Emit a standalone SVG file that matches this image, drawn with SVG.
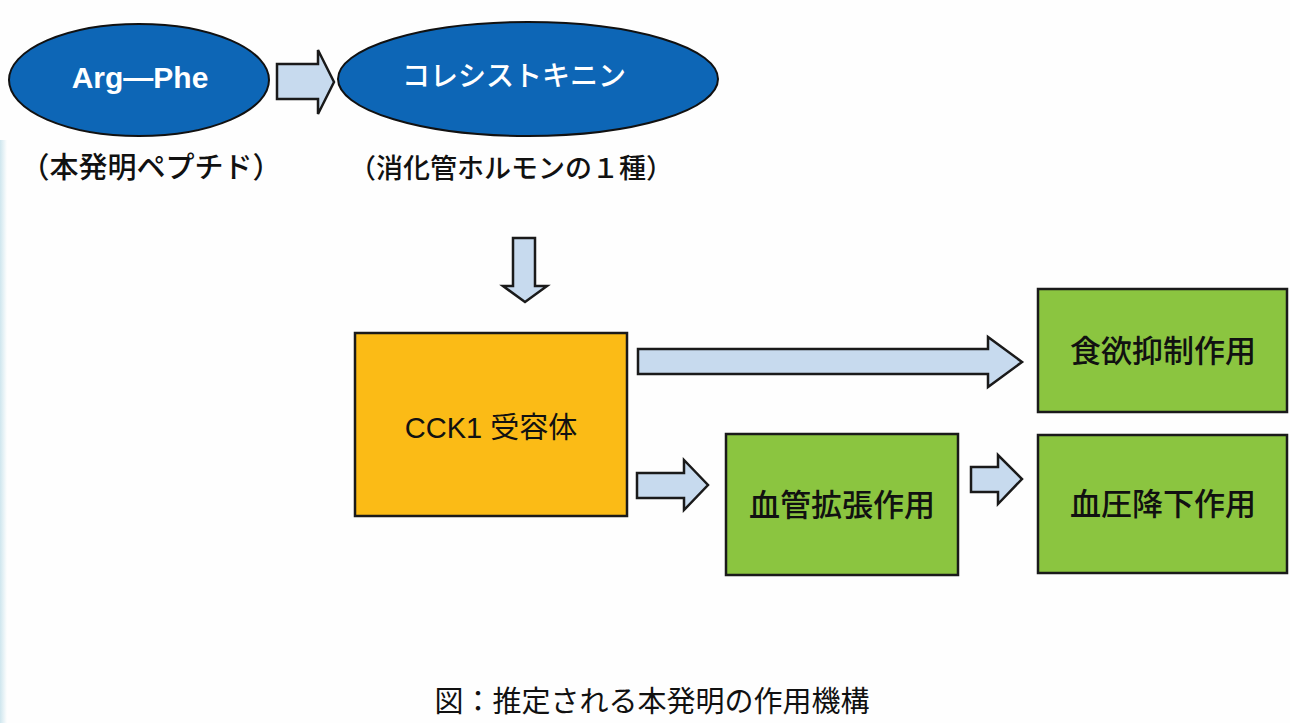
<svg xmlns="http://www.w3.org/2000/svg" width="1290" height="723" viewBox="0 0 1290 723">
  <defs>
    <linearGradient id="edge" x1="0" y1="0" x2="1" y2="0">
      <stop offset="0" stop-color="#cfe6ee"/>
      <stop offset="1" stop-color="#fefefe"/>
    </linearGradient>
  </defs>
  <style>
    .ell { fill: #0d66b6; stroke: #111; stroke-width: 2; }
    .arr { fill: #c7daee; stroke: #1a1a1a; stroke-width: 2.5; stroke-linejoin: miter; }
    .orange { fill: #fbbb16; stroke: #1a1a1a; stroke-width: 2.5; }
    .green { fill: #8bc540; stroke: #1a1a1a; stroke-width: 2.5; }
    .jp { font-family: "Noto Sans CJK JP", "Liberation Sans", sans-serif; fill: #111; }
    .lat { font-family: "Liberation Sans", "Noto Sans CJK JP", sans-serif; fill: #111; }
    .w { fill: #ffffff; }
  </style>
  <rect x="0" y="0" width="1290" height="723" fill="#fefefe"/>
  <rect x="0" y="140" width="7" height="583" fill="url(#edge)"/>

  <g id="connectors">
    <path class="arr" d="M277,64 H318 V50 L334,82 L318,114 V99 H277 Z"/>
    <path class="arr" d="M513,238 H535 V286 H547 L525,302 L503,286 H513 Z"/>
    <path class="arr" d="M638,349 H988 V337 L1022,362 L988,387 V374 H638 Z"/>
    <path class="arr" d="M637,473 H684 V460 L708,485 L684,510 V498 H637 Z"/>
    <path class="arr" d="M971,467 H998 V455 L1022,479 L998,504 V492 H971 Z"/>
  </g>

  <g id="node-argphe">
    <ellipse class="ell" cx="139" cy="80" rx="130" ry="56"/>
    <text class="lat w" x="140" y="88" font-size="30" font-weight="bold" text-anchor="middle">Arg—Phe</text>
    <text class="jp" x="151" y="178" font-size="29" font-weight="500" text-anchor="middle">（本発明ペプチド）</text>
  </g>

  <g id="node-cck">
    <ellipse class="ell" cx="528" cy="79" rx="190" ry="57"/>
    <text class="jp w" x="514" y="86" font-size="28" font-weight="500" text-anchor="middle">コレシストキニン</text>
    <text class="jp" x="511" y="178" font-size="27" font-weight="500" text-anchor="middle">（消化管ホルモンの１種）</text>
  </g>

  <g id="node-receptor">
    <rect class="orange" x="355" y="333" width="272" height="183"/>
    <text class="lat" x="491" y="438" font-size="29" text-anchor="middle">CCK1 受容体</text>
  </g>

  <g id="node-appetite">
    <rect class="green" x="1038" y="289" width="249" height="123"/>
    <text class="jp" x="1163" y="362" font-size="31" font-weight="500" text-anchor="middle">食欲抑制作用</text>
  </g>

  <g id="node-vasodilation">
    <rect class="green" x="726" y="434" width="232" height="141"/>
    <text class="jp" x="842" y="516" font-size="31" font-weight="500" text-anchor="middle">血管拡張作用</text>
  </g>

  <g id="node-bloodpressure">
    <rect class="green" x="1038" y="435" width="249" height="138"/>
    <text class="jp" x="1163" y="515" font-size="31" font-weight="500" text-anchor="middle">血圧降下作用</text>
  </g>

  <g id="caption">
    <text class="jp" x="652" y="712" font-size="29" text-anchor="middle">図：推定される本発明の作用機構</text>
  </g>
</svg>
